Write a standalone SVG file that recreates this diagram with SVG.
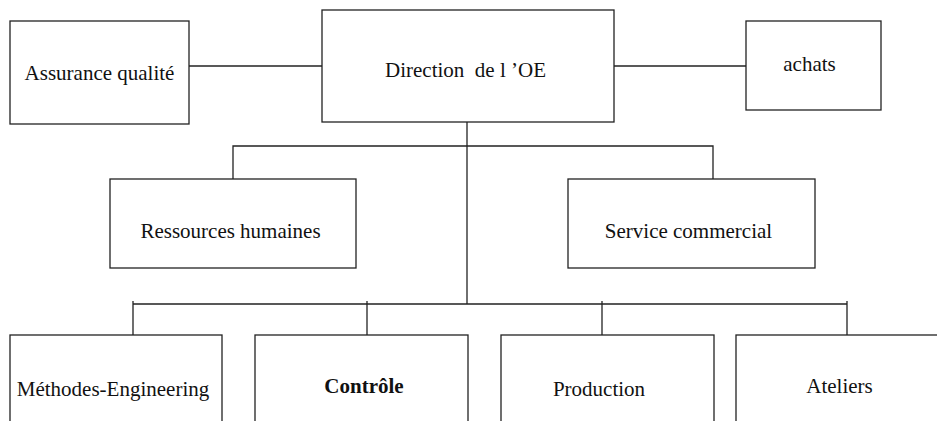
<svg xmlns="http://www.w3.org/2000/svg" width="937" height="421" viewBox="0 0 937 421">
  <style>
    .box { fill: #fff; stroke: #222; stroke-width: 1.3; }
    .link { fill: none; stroke: #222; stroke-width: 1.3; }
    .label { fill: #111; text-anchor: middle; }
  </style>
  <rect width="937" height="421" fill="#fff"/>

  <!-- connectors -->
  <g id="connectors">
    <path class="link" d="M189 66 H322"/>
    <path class="link" d="M614 66 H746"/>
    <path class="link" d="M467 122 V304"/>
    <path class="link" d="M233 179 V146 H713 V179"/>
    <path class="link" d="M133 335 V301 M133 304 H847 M847 301 V335"/>
    <path class="link" d="M367 301 V335"/>
    <path class="link" d="M602 301 V335"/>
  </g>

  <g font-family="Liberation Serif, Times New Roman, serif" font-size="21">
    <g id="assurance">
      <rect class="box" x="10" y="21" width="179" height="103"/>
      <text class="label" x="99.5" y="80">Assurance qualité</text>
    </g>
    <g id="direction">
      <rect class="box" x="322" y="10" width="292" height="112"/>
      <text class="label" x="465.5" y="77" xml:space="preserve">Direction  de l ’OE</text>
    </g>
    <g id="achats">
      <rect class="box" x="746" y="21" width="135" height="89"/>
      <text class="label" x="809.5" y="71">achats</text>
    </g>
    <g id="ressources">
      <rect class="box" x="110" y="179" width="246" height="89"/>
      <text class="label" x="230.5" y="238">Ressources humaines</text>
    </g>
    <g id="commercial">
      <rect class="box" x="568" y="179" width="247" height="89"/>
      <text class="label" x="688.5" y="238">Service commercial</text>
    </g>
    <g id="methodes">
      <rect class="box" x="10" y="335" width="212" height="100"/>
      <text class="label" x="113" y="396">Méthodes-Engineering</text>
    </g>
    <g id="controle">
      <rect class="box" x="255" y="335" width="213" height="100"/>
      <text class="label" x="364" y="393" font-weight="bold">Contrôle</text>
    </g>
    <g id="production">
      <rect class="box" x="501" y="335" width="213" height="100"/>
      <text class="label" x="599" y="396">Production</text>
    </g>
    <g id="ateliers">
      <rect class="box" x="736" y="335" width="220" height="100"/>
      <text class="label" x="839.5" y="393">Ateliers</text>
    </g>
  </g>
</svg>
